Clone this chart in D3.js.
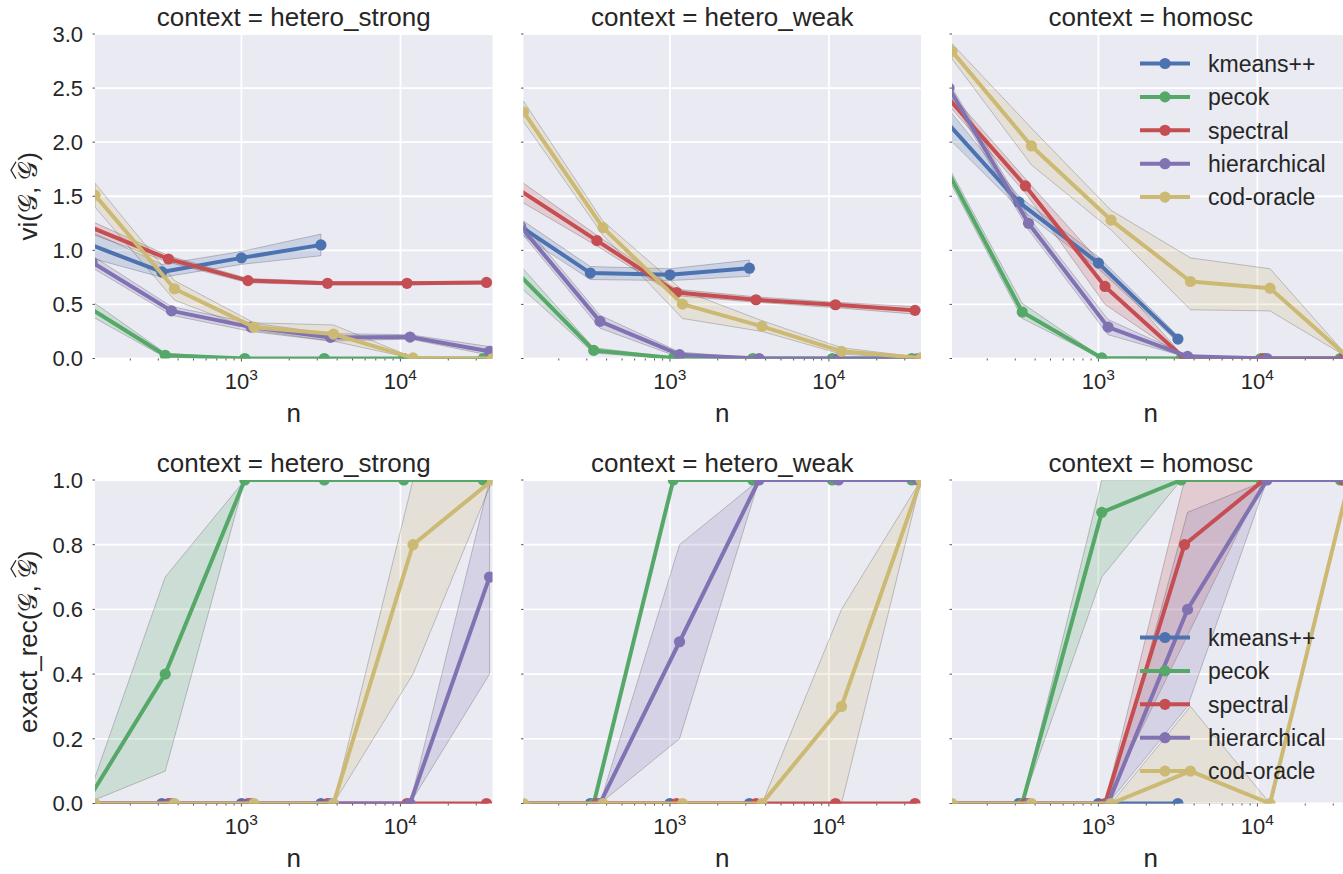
<!DOCTYPE html>
<html>
<head>
<meta charset="utf-8">
<script src="https://cdn.jsdelivr.net/npm/d3@7"></script>
<style>
  body { margin: 0; background: #ffffff; }
  svg { display: block; font-family: "Liberation Sans", Arial, sans-serif; }
</style>
</head>
<body>
<svg id="chart" width="1343" height="874"></svg>
<script>
// ---- data -------------------------------------------------------------
const methods  = ["kmeans++", "pecok", "spectral", "hierarchical", "cod-oracle"];
const colors   = ["#4C72B0", "#55A868", "#C44E52", "#8172B2", "#CCB974"];
const contexts = ["hetero_strong", "hetero_weak", "homosc"];
const nValues  = [100, 316, 1000, 3162, 10000, 31623];
// small multiplicative shift of n per method so that markers do not overlap
const nShift   = [1.00, 1.05, 1.10, 1.15, 1.20];

const viTicks   = [0, 0.5, 1, 1.5, 2, 2.5, 3];
const recTicks  = [0, 0.2, 0.4, 0.6, 0.8, 1];
const xMajor    = [1000, 10000];

// variation of information, one row per method
const viStrongMean = [[1.08, 0.80, 0.93, 1.05],
                      [0.49, 0.03, 0, 0, 0, 0],
                      [1.22, 0.92, 0.72, 0.695, 0.695, 0.703],
                      [0.89, 0.44, 0.29, 0.195, 0.198, 0.066],
                      [1.51, 0.645, 0.29, 0.226, 0.005, 0]];
const viStrongLow  = [[0.95, 0.75, 0.87, 0.95],
                      [0.42, 0.01, 0, 0, 0, 0],
                      [1.16, 0.89, 0.70, 0.68, 0.68, 0.69],
                      [0.84, 0.40, 0.25, 0.16, 0.18, 0.03],
                      [1.40, 0.54, 0.26, 0.16, 0, 0]];
const viStrongHigh = [[1.21, 0.87, 0.99, 1.15],
                      [0.57, 0.05, 0, 0, 0, 0],
                      [1.28, 0.95, 0.74, 0.71, 0.71, 0.715],
                      [0.95, 0.48, 0.33, 0.23, 0.22, 0.11],
                      [1.62, 0.72, 0.33, 0.31, 0.01, 0]];

const viWeakMean = [[1.28, 0.79, 0.774, 0.835],
                    [0.82, 0.075, 0.005, 0, 0, 0],
                    [1.57, 1.09, 0.61, 0.543, 0.497, 0.445],
                    [1.22, 0.343, 0.035, 0, 0, 0],
                    [2.28, 1.21, 0.503, 0.297, 0.066, 0.005]];
const viWeakLow  = [[1.21, 0.73, 0.72, 0.76],
                    [0.71, 0.05, 0, 0, 0, 0],
                    [1.47, 1.04, 0.58, 0.52, 0.47, 0.41],
                    [1.17, 0.28, 0.01, 0, 0, 0],
                    [2.19, 1.14, 0.37, 0.25, 0.04, 0]];
const viWeakHigh = [[1.35, 0.85, 0.83, 0.91],
                    [0.92, 0.10, 0.01, 0, 0, 0],
                    [1.66, 1.14, 0.64, 0.57, 0.52, 0.48],
                    [1.28, 0.40, 0.06, 0, 0, 0],
                    [2.38, 1.27, 0.63, 0.35, 0.10, 0.01]];

const viHomoMean = [[2.26, 1.445, 0.882, 0.18],
                    [1.815, 0.43, 0.005, 0, 0, 0],
                    [2.43, 1.595, 0.666, 0, 0, 0],
                    [2.50, 1.25, 0.29, 0.02, 0, 0],
                    [2.84, 1.965, 1.28, 0.712, 0.65, 0]];
const viHomoLow  = [[2.12, 1.39, 0.83, 0.15],
                    [1.76, 0.37, 0, 0, 0, 0],
                    [2.37, 1.53, 0.50, 0, 0, 0],
                    [2.45, 1.19, 0.22, 0.01, 0, 0],
                    [2.77, 1.79, 1.19, 0.45, 0.44, 0]];
const viHomoHigh = [[2.41, 1.50, 0.94, 0.21],
                    [1.87, 0.51, 0.01, 0, 0, 0],
                    [2.50, 1.66, 0.84, 0.01, 0, 0],
                    [2.55, 1.31, 0.36, 0.03, 0, 0],
                    [2.91, 2.13, 1.37, 0.93, 0.83, 0]];

// exact recovery rate, one row per method
const recStrongMean = [[0, 0, 0, 0],
                       [0, 0.4, 1, 1, 1, 1],
                       [0, 0, 0, 0, 0, 0],
                       [0, 0, 0, 0, 0, 0.7],
                       [0, 0, 0, 0, 0.8, 1]];
const recStrongLow  = [[0, 0, 0, 0],
                       [0, 0.1, 1, 1, 1, 1],
                       [0, 0, 0, 0, 0, 0],
                       [0, 0, 0, 0, 0, 0.4],
                       [0, 0, 0, 0, 0.4, 1]];
const recStrongHigh = [[0, 0, 0, 0],
                       [0, 0.7, 1, 1, 1, 1],
                       [0, 0, 0, 0, 0, 0],
                       [0, 0, 0, 0, 0, 1],
                       [0, 0, 0, 0, 1, 1]];

const recWeakMean = [[0, 0, 0, 0],
                     [0, 0, 1, 1, 1, 1],
                     [0, 0, 0, 0, 0, 0],
                     [0, 0, 0.5, 1, 1, 1],
                     [0, 0, 0, 0, 0.3, 1]];
const recWeakLow  = [[0, 0, 0, 0],
                     [0, 0, 1, 1, 1, 1],
                     [0, 0, 0, 0, 0, 0],
                     [0, 0, 0.2, 1, 1, 1],
                     [0, 0, 0, 0, 0, 1]];
const recWeakHigh = [[0, 0, 0, 0],
                     [0, 0, 1, 1, 1, 1],
                     [0, 0, 0, 0, 0, 0],
                     [0, 0, 0.8, 1, 1, 1],
                     [0, 0, 0, 0, 0.6, 1]];

const recHomoMean = [[0, 0, 0, 0],
                     [0, 0, 0.9, 1, 1, 1],
                     [0, 0, 0, 0.8, 1, 1],
                     [0, 0, 0, 0.6, 1, 1],
                     [0, 0, 0, 0.1, 0, 1]];
const recHomoLow  = [[0, 0, 0, 0],
                     [0, 0, 0.7, 1, 1, 1],
                     [0, 0, 0, 0.5, 1, 1],
                     [0, 0, 0, 0.3, 1, 1],
                     [0, 0, 0, 0, 0, 1]];
const recHomoHigh = [[0, 0, 0, 0],
                     [0, 0, 1, 1, 1, 1],
                     [0, 0, 0, 1, 1, 1],
                     [0, 0, 0, 0.9, 1, 1],
                     [0, 0, 0, 0.3, 0, 1]];

// ---- layout -----------------------------------------------------------
const textColor = "#262626";
const bgColor   = "#EAEAF2";
const colLeft   = [95, 523.5, 952];
const panelW    = 397.5;
const lineW     = 4;
const markerR   = 5.6;

const rows = [
  { top: 34, bottom: 358.5, ticks: viTicks, fmt: d3.format(".1f"), label: "vi",
    panels: [[viStrongMean, viStrongLow, viStrongHigh],
             [viWeakMean, viWeakLow, viWeakHigh],
             [viHomoMean, viHomoLow, viHomoHigh]] },
  { top: 480, bottom: 803.5, ticks: recTicks, fmt: d3.format(".1f"), label: "exact_rec",
    panels: [[recStrongMean, recStrongLow, recStrongHigh],
             [recWeakMean, recWeakLow, recWeakHigh],
             [recHomoMean, recHomoLow, recHomoHigh]] }
];

const svg  = d3.select("#chart");
const defs = svg.append("defs");

// x limits follow the span of the most shifted series
const xDomain = [nValues[0] * nShift[4], nValues[nValues.length - 1] * nShift[4]];

rows.forEach((row, ri) => {
  const y = d3.scaleLinear()
    .domain([0, d3.max(row.ticks)])
    .range([row.bottom, row.top]);

  contexts.forEach((ctx, ci) => {
    const left = colLeft[ci];
    const x = d3.scaleLog().domain(xDomain).range([left, left + panelW]);
    const g = svg.append("g");
    const clipId = `clip-${ri}-${ci}`;
    defs.append("clipPath").attr("id", clipId)
      .append("rect")
      .attr("x", left).attr("y", row.top)
      .attr("width", panelW).attr("height", row.bottom - row.top);

    // background
    g.append("rect")
      .attr("x", left).attr("y", row.top)
      .attr("width", panelW).attr("height", row.bottom - row.top)
      .attr("fill", bgColor);

    // grid
    g.append("g").selectAll("line").data(row.ticks).join("line")
      .attr("x1", left).attr("x2", left + panelW)
      .attr("y1", d => y(d)).attr("y2", d => y(d))
      .attr("stroke", "#ffffff").attr("stroke-width", 1.8);
    g.append("g").selectAll("line").data(xMajor).join("line")
      .attr("x1", d => x(d)).attr("x2", d => x(d))
      .attr("y1", row.top).attr("y2", row.bottom)
      .attr("stroke", "#ffffff").attr("stroke-width", 1.8);

    // tick marks
    const minor = [];
    for (let dec = 100; dec <= 10000; dec *= 10)
      for (let k = 2; k <= 9; k++) {
        const v = dec * k;
        if (v >= xDomain[0] && v <= xDomain[1]) minor.push(v);
      }
    g.append("g").selectAll("line").data(minor).join("line")
      .attr("x1", d => x(d)).attr("x2", d => x(d))
      .attr("y1", row.bottom).attr("y2", row.bottom + 2)
      .attr("stroke", "#555").attr("stroke-width", 1);
    g.append("g").selectAll("line").data(xMajor).join("line")
      .attr("x1", d => x(d)).attr("x2", d => x(d))
      .attr("y1", row.bottom).attr("y2", row.bottom + 3)
      .attr("stroke", "#555").attr("stroke-width", 1);
    g.append("g").selectAll("line").data(row.ticks).join("line")
      .attr("x1", left - 2.5).attr("x2", left)
      .attr("y1", d => y(d)).attr("y2", d => y(d))
      .attr("stroke", "#555").attr("stroke-width", 1);

    // x tick labels (powers of ten)
    const xl = g.append("g").selectAll("text").data(xMajor).join("text")
      .attr("x", d => x(d)).attr("y", row.bottom + 30)
      .attr("text-anchor", "middle")
      .attr("fill", textColor).attr("font-size", 22);
    xl.append("tspan").text("10");
    xl.append("tspan").attr("dy", -9).attr("font-size", 15.5)
      .text(d => Math.round(Math.log10(d)));

    // y tick labels on the first column only
    if (ci === 0) {
      g.append("g").selectAll("text").data(row.ticks).join("text")
        .attr("x", left - 12).attr("y", d => y(d)).attr("dy", "0.36em")
        .attr("text-anchor", "end")
        .attr("fill", textColor).attr("font-size", 22)
        .text(d => row.fmt(d));
    }

    // title and x label
    g.append("text")
      .attr("x", left + panelW / 2).attr("y", row.top - 8)
      .attr("text-anchor", "middle").attr("fill", textColor).attr("font-size", 26)
      .text(`context = ${ctx}`);
    g.append("text")
      .attr("x", left + panelW / 2).attr("y", row.bottom + 63)
      .attr("text-anchor", "middle").attr("fill", textColor).attr("font-size", 26)
      .text("n");

    // series
    const [means, lows, highs] = row.panels[ci];
    const plot = g.append("g").attr("clip-path", `url(#${clipId})`);
    const seriesPts = methods.map((m, mi) => means[mi].map((v, k) => ({
      n: nValues[k] * nShift[mi], v, lo: lows[mi][k], hi: highs[mi][k]
    })));

    const area = d3.area().x(d => x(d.n)).y0(d => y(d.lo)).y1(d => y(d.hi));
    const line = d3.line().x(d => x(d.n)).y(d => y(d.v));

    // confidence bands sit underneath every line
    seriesPts.forEach((pts, mi) => {
      plot.append("path")
        .attr("d", area(pts) + "Z")
        .attr("fill", colors[mi]).attr("fill-opacity", 0.2)
        .attr("stroke", "#000").attr("stroke-opacity", 0.2).attr("stroke-width", 1);
    });
    seriesPts.forEach((pts, mi) => {
      plot.append("path")
        .attr("d", line(pts))
        .attr("fill", "none").attr("stroke", colors[mi])
        .attr("stroke-width", lineW).attr("stroke-linejoin", "round")
        .attr("stroke-linecap", "square");
      plot.append("g").selectAll("circle").data(pts).join("circle")
        .attr("cx", d => x(d.n)).attr("cy", d => y(d.v)).attr("r", markerR)
        .attr("fill", colors[mi]);
    });

    // legend inside the last column
    if (ci === 2) {
      const ly0 = ri === 0 ? 63.5 : 637.5;
      const leg = g.append("g");
      methods.forEach((m, mi) => {
        const yy = ly0 + mi * 33.4;
        leg.append("line")
          .attr("x1", 1140).attr("x2", 1190).attr("y1", yy).attr("y2", yy)
          .attr("stroke", colors[mi]).attr("stroke-width", lineW);
        leg.append("circle").attr("cx", 1165).attr("cy", yy).attr("r", markerR)
          .attr("fill", colors[mi]);
        leg.append("text").attr("x", 1208).attr("y", yy).attr("dy", "0.36em")
          .attr("fill", textColor).attr("font-size", 23).text(m);
      });
    }
  });

  // y axis label: name(G, Ĝ) with calligraphic G and a wide hat
  const cy = (row.top + row.bottom) / 2;
  const lab = svg.append("g").attr("transform", `translate(37,${cy}) rotate(-90)`);
  const calFont = "'DejaVu Sans', 'Noto Sans', serif";
  const pieces = [
    { t: row.label + "(" },
    { t: "\u{1D4A2}", cal: true },
    { t: "," },
    { gap: 7 },
    { t: "\u{1D4A2}", cal: true, hat: true },
    { t: ")" }
  ];
  let cursor = 0;
  const placed = [];
  pieces.forEach(p => {
    if (p.gap) { cursor += p.gap; return; }
    const t = lab.append("text").attr("x", cursor).attr("y", 0)
      .attr("fill", textColor).attr("font-size", 26).text(p.t);
    if (p.cal) t.attr("font-family", calFont);
    const w = t.node().getComputedTextLength();
    placed.push({ node: t, x: cursor, w, hat: p.hat });
    cursor += w;
  });
  const shift = -cursor / 2;
  placed.forEach(p => {
    p.node.attr("x", p.x + shift);
    if (p.hat) {
      const x0 = p.x + shift;
      lab.append("path")
        .attr("d", `M${x0 + 1},${-21} L${x0 + p.w / 2},${-26} L${x0 + p.w - 1},${-21}`)
        .attr("fill", "none").attr("stroke", textColor).attr("stroke-width", 1.3);
    }
  });
});
</script>
</body>
</html>
